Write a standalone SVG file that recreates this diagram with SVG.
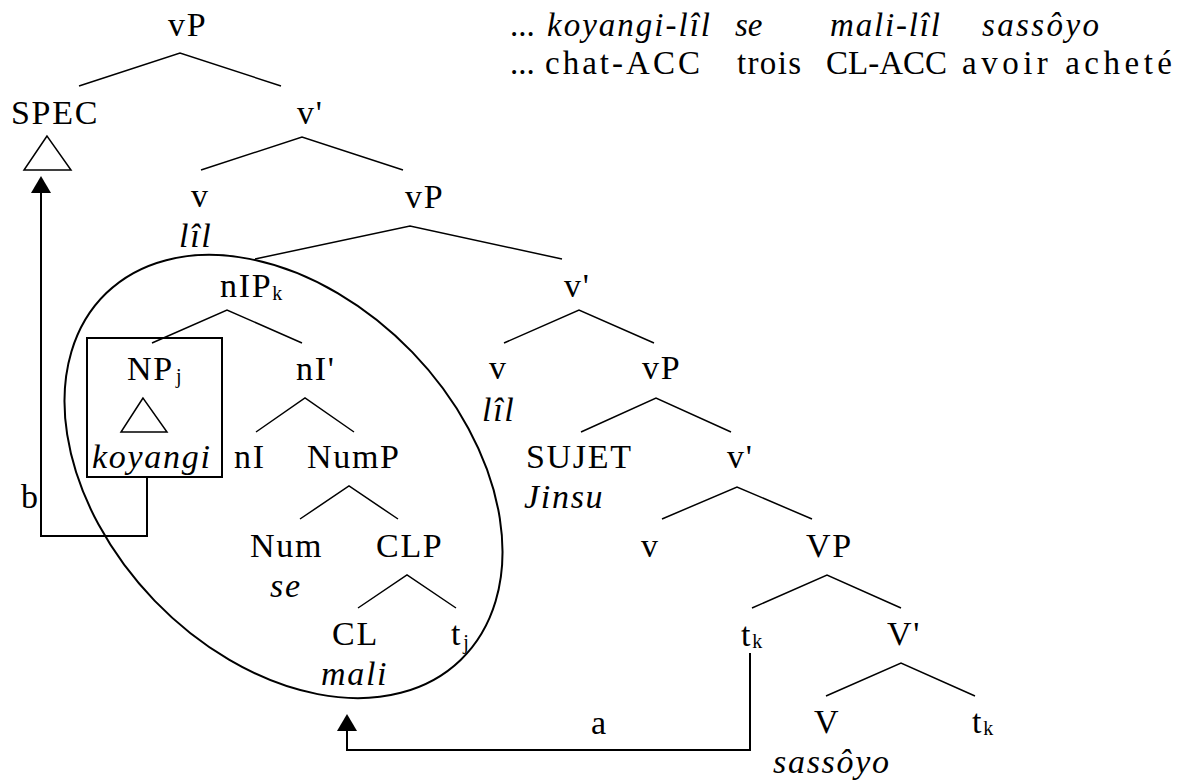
<svg xmlns="http://www.w3.org/2000/svg" width="1182" height="782" viewBox="0 0 1182 782">
<defs>
<style>
text{font-family:"Liberation Serif","Times New Roman",serif;fill:#000}
.n{font-size:34px;letter-spacing:1.7px}
.i{font-style:italic}
.s{font-size:20px;letter-spacing:0}
.top{font-size:33px}
.e{stroke:#000;stroke-width:1.5;fill:none}
.c{stroke:#000;stroke-width:2;fill:none}
</style>
<marker id="ah" markerWidth="17" markerHeight="20" refX="0" refY="10" orient="auto" markerUnits="userSpaceOnUse" viewBox="0 0 17 20">
<path d="M0,0 L17,10 L0,20 Z" fill="#000"/>
</marker>
</defs>
<rect width="1182" height="782" fill="#fff"/>

<g id="gloss">
<text class="top" x="510" y="36">...</text>
<text class="top i" x="547" y="36" textLength="163" lengthAdjust="spacing">koyangi-lîl</text>
<text class="top i" x="735" y="36">se</text>
<text class="top i" x="830" y="36" textLength="110" lengthAdjust="spacing">mali-lîl</text>
<text class="top i" x="982" y="36" textLength="117" lengthAdjust="spacing">sassôyo</text>
<text class="top" x="510" y="74">...</text>
<text class="top" x="545" y="74" textLength="155" lengthAdjust="spacing">chat-ACC</text>
<text class="top" x="737" y="74" textLength="64" lengthAdjust="spacing">trois</text>
<text class="top" x="826" y="74">CL-ACC</text>
<text class="top" x="962" y="74" textLength="210" lengthAdjust="spacing">avoir acheté</text>
</g>

<g id="edges">
<polyline class="e" points="79,86 180,53 281,86"/>
<polyline class="e" points="201,170 302,137 403,170"/>
<polyline class="e" points="255,259 410,226 562,259"/>
<polyline class="e" points="152,343 227,310 302,343"/>
<polyline class="e" points="504,343 579,310 654,343"/>
<polyline class="e" points="256,432 305,398 354,432"/>
<polyline class="e" points="581,432 656,398 731,432"/>
<polyline class="e" points="300,519 349,486 398,519"/>
<polyline class="e" points="662,519 737,487 812,519"/>
<polyline class="e" points="358,608 407,575 456,608"/>
<polyline class="e" points="752,608 827,575 901,608"/>
<polyline class="e" points="826,696 901,663 975,696"/>
</g>

<g id="n-vP1"><text class="n" x="168" y="36">vP</text></g>
<g id="n-SPEC"><text class="n" x="11" y="124">SPEC</text>
<polygon class="e" points="47,136 24,170 71,170"/></g>
<g id="n-vbar1"><text class="n" x="297" y="124">v'</text></g>
<g id="n-v1"><text class="n" x="191" y="207">v</text><text class="n i" x="179" y="247">lîl</text></g>
<g id="n-vP2"><text class="n" x="405" y="208">vP</text></g>
<g id="n-nIP"><text class="n" x="220" y="297">nIP<tspan class="s" dy="3">k</tspan></text></g>
<g id="n-vbar2"><text class="n" x="564" y="297">v'</text></g>
<g id="n-NP"><rect class="c" x="87" y="338" width="135" height="139"/>
<text class="n" x="127" y="380">NP<tspan class="s" dx="2" dy="3">j</tspan></text>
<polygon class="e" points="143,398 121,432 167,432"/>
<text class="n i" x="92" y="468">koyangi</text></g>
<g id="n-nIbar"><text class="n" x="296" y="380">nI'</text></g>
<g id="n-v3"><text class="n" x="489" y="379">v</text><text class="n i" x="482" y="421">lîl</text></g>
<g id="n-vP3"><text class="n" x="642" y="379">vP</text></g>
<g id="n-nI"><text class="n" x="234" y="468">nI</text></g>
<g id="n-NumP"><text class="n" x="307" y="468">NumP</text></g>
<g id="n-SUJET"><text class="n" x="526" y="468">SUJET</text><text class="n i" x="524" y="508">Jinsu</text></g>
<g id="n-vbar3"><text class="n" x="727" y="468">v'</text></g>
<g id="n-Num"><text class="n" x="250" y="557">Num</text><text class="n i" x="270" y="597">se</text></g>
<g id="n-CLP"><text class="n" x="376" y="557">CLP</text></g>
<g id="n-v4"><text class="n" x="641" y="557">v</text></g>
<g id="n-VP"><text class="n" x="806" y="557">VP</text></g>
<g id="n-CL"><text class="n" x="332" y="645">CL</text><text class="n i" x="321" y="685">mali</text></g>
<g id="n-tj"><text class="n" x="451" y="645">t<tspan class="s" dx="1" dy="4">j</tspan></text></g>
<g id="n-tk1"><text class="n" x="741" y="646">t<tspan class="s" dy="2">k</tspan></text></g>
<g id="n-Vbar"><text class="n" x="887" y="645">V'</text></g>
<g id="n-V"><text class="n" x="814" y="733">V</text><text class="n i" x="773" y="773">sassôyo</text></g>
<g id="n-tk2"><text class="n" x="972" y="733">t<tspan class="s" dy="2">k</tspan></text></g>

<g id="n-ellipse"><ellipse class="c" cx="283.5" cy="476.5" rx="255" ry="179" transform="rotate(46 283.5 476.5)"/></g>

<g id="connectors">
<path class="c" d="M147,477 V536 H41 V193" marker-end="url(#ah)"/>
<path class="c" d="M750,653 V750 H347 V731" marker-end="url(#ah)"/>
<text class="n" x="21" y="508">b</text>
<text class="n" x="591" y="734">a</text>
</g>
</svg>
